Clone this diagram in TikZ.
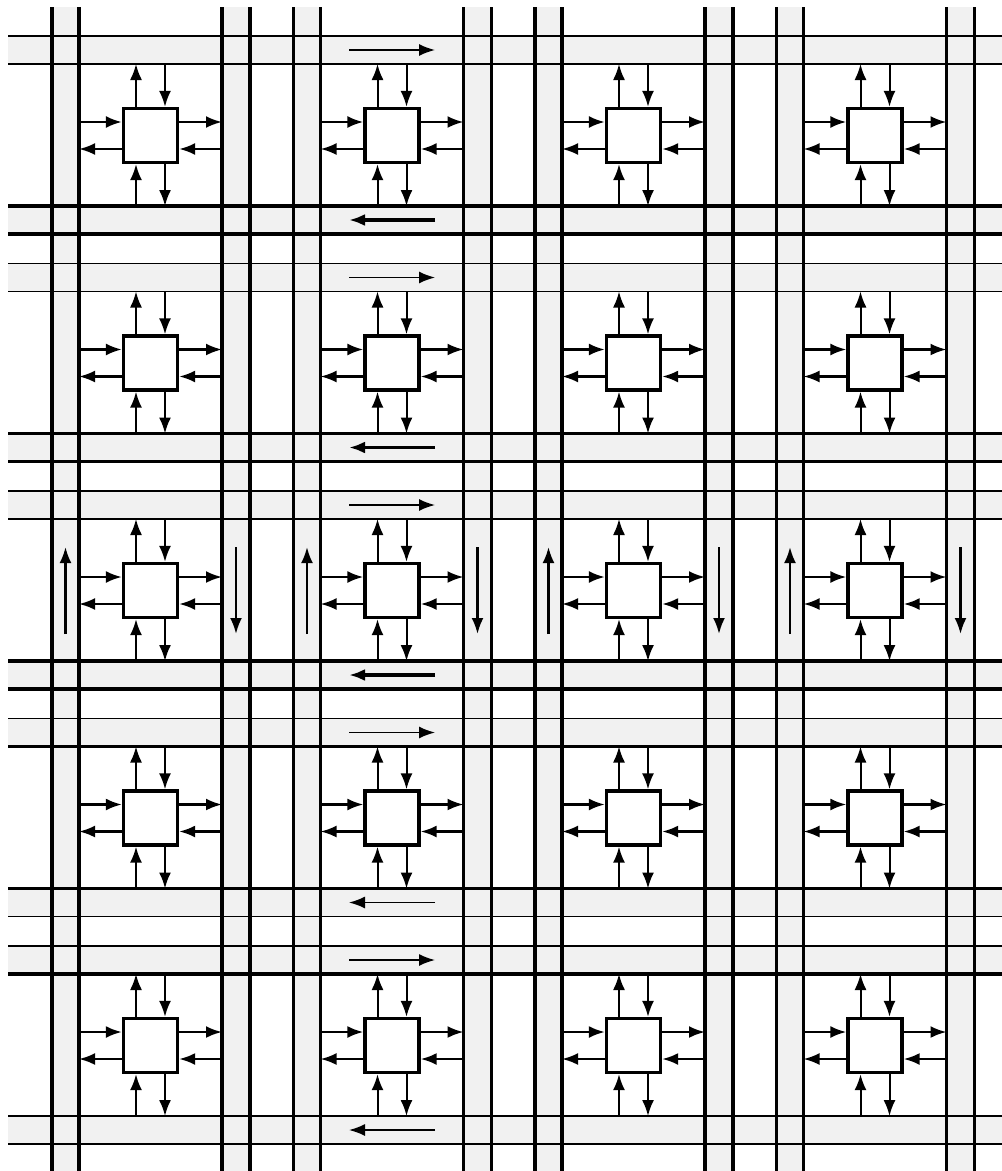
\documentclass[tikz,border=0pt]{standalone}
\usetikzlibrary{arrows.meta,calc}
\definecolor{chanGray}{RGB}{241,241,241}
\begin{document}
\begin{tikzpicture}[x=0.75pt,y=-0.75pt,
  pe/.style={draw,line width=2.5pt,fill=white,minimum size=40.5pt,inner sep=0pt},
  link/.style={-{Latex[length=12pt,width=9pt]},line width=#1},
  link/.default=1.5pt,
  rail/.style={line width=#1}]
  \useasboundingbox (0,0) rectangle (1002,1171);
  % shaded channels
  \foreach \c in {0,...,3}{
    \fill[chanGray] (52+241.5*\c,7) rectangle (79+241.5*\c,1171);
    \fill[chanGray] (222+241.5*\c,7) rectangle (250+241.5*\c,1171);
  }
  \foreach \r in {0,...,4}{
    \fill[chanGray] (8,36+227.5*\r) rectangle (1002,64+227.5*\r);
    \fill[chanGray] (8,206+227.5*\r) rectangle (1002,234+227.5*\r);
  }
  % channel rails
  \foreach \r/\wa/\wb/\wc/\wd in {0/1.2pt/1.2pt/2.5pt/2.5pt,1/1.2pt/1.2pt/2.5pt/2.5pt,
      2/1.2pt/1.2pt/2.5pt/2.5pt,3/1.2pt/2.5pt/2.5pt/1.2pt,4/1.2pt/2.5pt/1.5pt/1.5pt}{
    \draw[rail=\wa] (8,36+227.5*\r) -- (1002,36+227.5*\r);
    \draw[rail=\wb] (8,64+227.5*\r) -- (1002,64+227.5*\r);
    \draw[rail=\wc] (8,206+227.5*\r) -- (1002,206+227.5*\r);
    \draw[rail=\wd] (8,234+227.5*\r) -- (1002,234+227.5*\r);
  }
  \foreach \c in {0,...,3}
    \foreach \x in {52,79,222,250}
      \draw[rail=2.5pt] (\x+241.5*\c,7) -- (\x+241.5*\c,1171);
  % processing elements and their ports
  \foreach \c in {0,...,3}{
    \foreach \r in {0,...,4}{
      \pgfmathsetmacro{\cx}{150.5+241.5*\c}
      \pgfmathsetmacro{\cy}{135.5+227.5*\r}
      \node[pe] (n\c\r) at (\cx,\cy) {};
      \coordinate (wl\c\r) at (\cx-71.5,\cy);
      \coordinate (el\c\r) at (\cx+71.5,\cy);
      \coordinate (nl\c\r) at (\cx,\cy-71.5);
      \coordinate (sl\c\r) at (\cx,\cy+70.5);
      \draw[link=1.8pt] ($(wl\c\r)+(0,-13.5)$) -- ($(n\c\r.west)+(0,-13.5)$);
      \draw[link=1.8pt] ($(n\c\r.west)+(0,13.5)$) -- ($(wl\c\r)+(0,13.5)$);
      \draw[link=1.8pt] ($(n\c\r.east)+(0,-13.5)$) -- ($(el\c\r)+(0,-13.5)$);
      \draw[link=1.8pt] ($(el\c\r)+(0,13.5)$) -- ($(n\c\r.east)+(0,13.5)$);
      \draw[link] ($(n\c\r.north)+(-14.5,0)$) -- ($(nl\c\r)+(-14.5,0)$);
      \draw[link] ($(nl\c\r)+(14.5,0)$) -- ($(n\c\r.north)+(14.5,0)$);
      \draw[link] ($(sl\c\r)+(-14.5,0)$) -- ($(n\c\r.south)+(-14.5,0)$);
      \draw[link] ($(n\c\r.south)+(14.5,0)$) -- ($(sl\c\r)+(14.5,0)$);
    }
  }
  % flow in the horizontal channels
  \foreach \r/\w in {0/2.5pt,1/2.5pt,2/2.5pt,3/1.2pt,4/1.2pt}{
    \coordinate (ea\r) at (349,50+227.5*\r);
    \coordinate (eb\r) at (435,50+227.5*\r);
    \draw[link=1.2pt] (ea\r) -- (eb\r);
    \coordinate (wa\r) at (435,220+227.5*\r);
    \coordinate (wb\r) at (349,220+227.5*\r);
    \draw[link=\w] (wa\r) -- (wb\r);
  }
  % flow in the vertical channels, middle row
  \foreach \c in {0,...,3}{
    \coordinate (ua\c) at (65.5+241.5*\c,634);
    \coordinate (ub\c) at (65.5+241.5*\c,547);
    \draw[link=1.8pt] (ua\c) -- (ub\c);
    \coordinate (da\c) at (236+241.5*\c,547);
    \coordinate (db\c) at (236+241.5*\c,634);
    \draw[link=1.8pt] (da\c) -- (db\c);
  }
\end{tikzpicture}
\end{document}
